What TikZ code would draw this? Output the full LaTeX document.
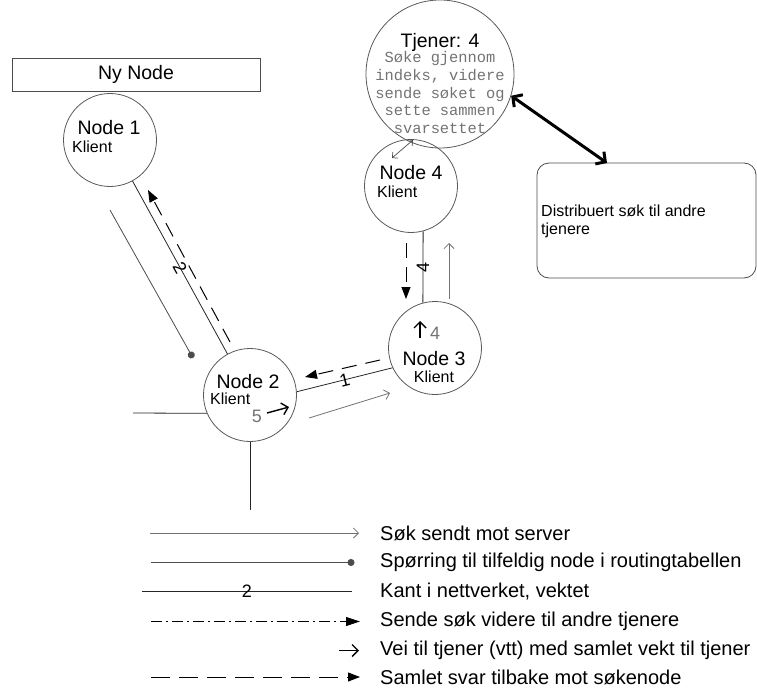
\documentclass[tikz,border=0pt]{standalone}
\usepackage{fontspec}
\setmainfont{Liberation Sans}
\setmonofont{Liberation Mono}
\usetikzlibrary{arrows.meta, calc, positioning}

\tikzset{
  knot/.style={circle, draw=black!65, line width=0.8pt, minimum size=93pt, inner sep=0pt},
  kant/.style={draw=black!85, line width=0.8pt},
  vekt/.style={font=\fontsize{18}{18}\selectfont, sloped, inner sep=0pt},
  stor/.style={font=\fontsize{19.5}{23}\selectfont, inner sep=0pt},
  liten/.style={font=\fontsize{16}{18}\selectfont, inner sep=0pt},
  mono/.style={font=\ttfamily\fontsize{15.4}{17.7}\selectfont, text=black!55, align=center, inner sep=0pt},
  tall/.style={font=\fontsize{18}{18}\selectfont, text=black!55, inner sep=0pt},
  legtxt/.style={font=\fontsize{20}{20}\selectfont, anchor=west, inner sep=0pt},
  svar/.style={line width=1pt, dash pattern=on 15pt off 9pt, -{Triangle[length=12pt,width=9pt]}},
  videre/.style={line width=1pt, dash pattern=on 11pt off 4pt on 2pt off 4pt, -{Triangle[length=14pt,width=9pt]}},
  sok/.style={draw=black!55, line width=0.8pt, -{Straight Barb[length=5pt,width=10pt]}},
  prikk/.style={draw=black!70, line width=0.8pt, -{Circle[length=7pt]}},
  vtt/.style={line width=1.4pt, -{Straight Barb[length=6pt,width=12pt]}},
  tykk/.style={line width=3pt, {Straight Barb[length=7pt,width=15pt]}-{Straight Barb[length=7pt,width=15pt]}}
}

\begin{document}
\begin{tikzpicture}[x=1pt, y=-1pt]
\useasboundingbox (0,0) rectangle (757,688);

% noder
\node[knot] (n1) at (110,140) {};
\node[knot] (n2) at (250,395) {};
\node[knot] (n3) at (435,348) {};
\node[knot] (n4) at (411,186) {};
\node[knot, minimum size=148pt] (tj) at (440,74) {};
\node[draw=black!70, line width=0.8pt, minimum width=248pt, minimum height=33pt, stor] (ny) at (136,74.5) {Ny Node};
\node[draw=black!70, line width=0.8pt, rounded corners=12pt, minimum width=219pt, minimum height=115pt] (dist) at (646.5,220.5) {};

% tekst i nodene
\node[stor] (t1) at (109,128) {Node 1};
\node[liten, anchor=west] (k1) at (72,147) {Klient};
\node[stor] (t2) at (248,382) {Node 2};
\node[liten, anchor=west] (k2) at (210,399) {Klient};
\node[tall] (v2) at (257,416) {5};
\node[stor] (t3) at (434,359) {Node 3};
\node[liten] (k3) at (434,377) {Klient};
\node[tall] (v3) at (435,333) {4};
\node[stor] (t4) at (411,173) {Node 4};
\node[liten, anchor=west] (k4) at (377,192) {Klient};
\node[stor] (ttj) at (440,42) {Tjener: 4};
\node[mono] (mtj) at (440,92.5) {Søke gjennom\\indeks, videre\\sende søket og\\sette sammen\\svarsettet};
\node[liten, anchor=west, align=left] (tdist) at (541,221) {Distribuert søk til andre\\tjenere};

% kanter
\coordinate (vest) at (133,413);
\coordinate (syd) at (250,510);
\coordinate (dtop) at (607,163);
\draw[kant] (n1) -- node[vekt] {2} (n2);
\draw[kant] (n3.205) -- node[vekt] {1} (n2.4);
\draw[kant] (n4.-75) -- node[vekt] {4} (n3.105);
\draw[kant] (n2.203) -- (vest);
\draw[kant] (n2.south) -- (syd);
\draw[tykk] (tj.-17) -- (dtop);

% piler langs kantene
\coordinate (a1) at (230,342); \coordinate (b1) at (148,190);
\coordinate (a2) at (110,210); \coordinate (b2) at (193,358);
\coordinate (a3) at (380,360); \coordinate (b3) at (305,377);
\coordinate (a4) at (309,418); \coordinate (b4) at (390,393);
\coordinate (a5) at (406,243); \coordinate (b5) at (406,299);
\coordinate (a6) at (449,299); \coordinate (b6) at (449,243);
\coordinate (a7) at (392,158); \coordinate (b7) at (413,140);
\coordinate (a8) at (267,413); \coordinate (b8) at (289,407);
\coordinate (a9) at (420,338); \coordinate (b9) at (420,321);
\draw[svar] (a1) -- (b1);
\draw[prikk] (a2) -- (b2);
\draw[svar] (a3) -- (b3);
\draw[sok] (a4) -- (b4);
\draw[svar] (a5) -- (b5);
\draw[sok] (a6) -- (b6);
\draw[draw=black!70, line width=0.7pt, {Straight Barb[length=4pt,width=8pt]}-{Straight Barb[length=4pt,width=8pt]}] (a7) -- (b7);
\draw[vtt] (a8) -- (b8);
\draw[vtt] (a9) -- (b9);

% forklaring
\node[legtxt] (lg1) at (380,533) {Søk sendt mot server};
\node[legtxt] (lg2) at (380,562.5) {Spørring til tilfeldig node i routingtabellen};
\node[legtxt] (lg3) at (380,591.5) {Kant i nettverket, vektet};
\node[legtxt] (lg4) at (380,621.5) {Sende søk videre til andre tjenere};
\node[legtxt] (lg5) at (380,650.5) {Vei til tjener (vtt) med samlet vekt til tjener};
\node[legtxt] (lg6) at (380,677) {Samlet svar tilbake mot søkenode};
\draw[sok] ($(lg1.west)+(-230,0)$) -- ($(lg1.west)+(-21,0)$);
\draw[prikk] ($(lg2.west)+(-229,0)$) -- ($(lg2.west)+(-25.5,0)$);
\draw[kant] ($(lg3.west)+(-238,0)$) -- node[vekt] {2} ($(lg3.west)+(-28,0)$);
\draw[videre] ($(lg4.west)+(-229,0)$) -- ($(lg4.west)+(-20,0)$);
\draw[vtt] ($(lg5.west)+(-41,0)$) -- ($(lg5.west)+(-21,0)$);
\draw[svar, dash pattern=on 19pt off 9pt] ($(lg6.west)+(-229,0)$) -- ($(lg6.west)+(-20,0)$);
\end{tikzpicture}
\end{document}
